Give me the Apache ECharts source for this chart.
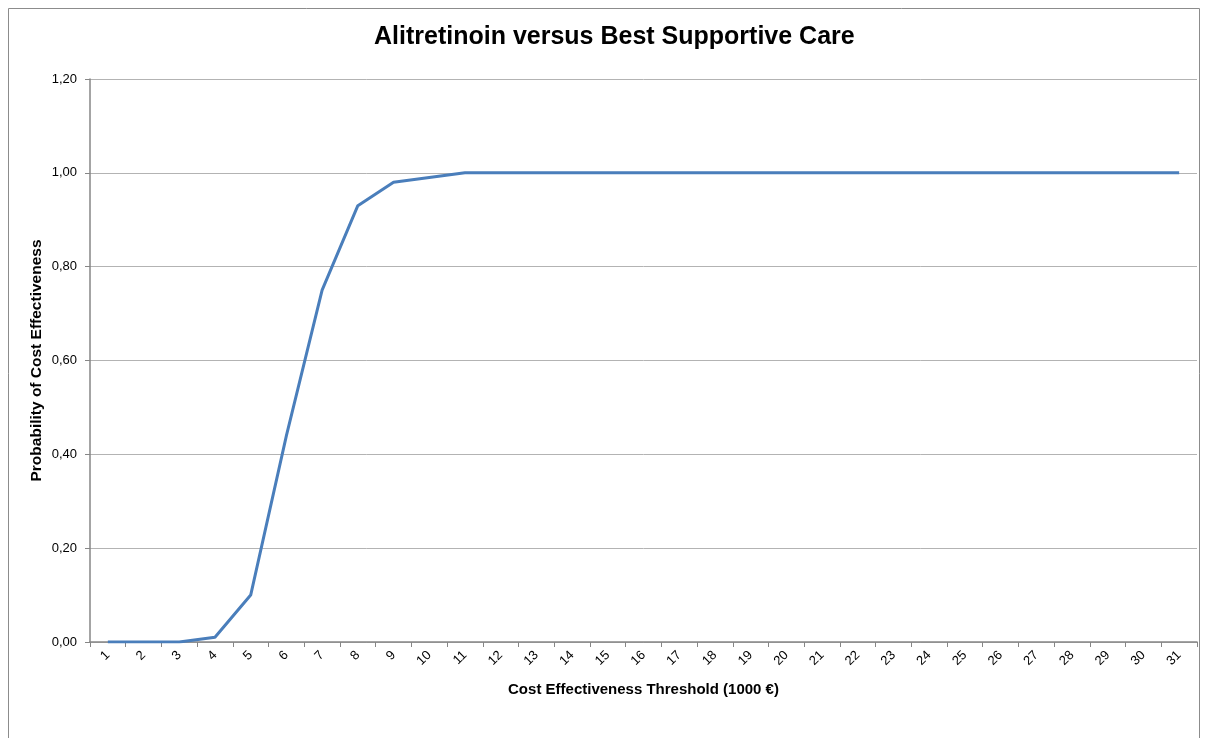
<!DOCTYPE html>
<html>
<head>
<meta charset="utf-8">
<script src="https://cdn.jsdelivr.net/npm/echarts@6/dist/echarts.min.js"></script>
<style>
  html, body { margin: 0; padding: 0; background: #fff; }
  #chart { width: 1207px; height: 738px; }
</style>
</head>
<body>
<div id="chart"></div>
<script>
// Willingness-to-pay thresholds (thousand euro)
const thresholds = ['1','2','3','4','5','6','7','8','9','10','11','12','13','14','15','16','17','18','19','20','21','22','23','24','25','26','27','28','29','30','31'];
// Probability that alitretinoin is cost-effective at each threshold
const probability = [0, 0, 0, 0.01, 0.10, 0.44, 0.75, 0.93, 0.98, 0.99, 1, 1, 1, 1, 1, 1, 1, 1, 1, 1, 1, 1, 1, 1, 1, 1, 1, 1, 1, 1, 1];

const font = 'Liberation Sans, Arial, sans-serif';
const chart = echarts.init(document.getElementById('chart'), null, { renderer: 'canvas' });

chart.setOption({
  animation: false,
  backgroundColor: '#ffffff',
  textStyle: { fontFamily: font },
  graphic: [{
    type: 'rect',
    shape: { x: 8.5, y: 8.5, width: 1191, height: 760 },
    style: { fill: 'none', stroke: '#8c8c8c', lineWidth: 1 },
    silent: true
  }],
  title: {
    text: 'Alitretinoin versus Best Supportive Care',
    left: 369,
    top: 20,
    textStyle: { fontFamily: font, fontSize: 25, fontWeight: 'bold', color: '#000' }
  },
  grid: { left: 90, right: 10, top: 79, bottom: 96, containLabel: false },
  xAxis: {
    type: 'category',
    data: thresholds,
    boundaryGap: true,
    name: 'Cost Effectiveness Threshold (1000 €)',
    nameLocation: 'middle',
    nameGap: 40,
    nameTextStyle: { fontFamily: font, fontSize: 15, fontWeight: 'bold', color: '#000' },
    axisLine: { lineStyle: { color: '#868686', width: 1.5 } },
    axisTick: { show: true, alignWithLabel: false, length: 5, lineStyle: { color: '#868686' } },
    axisLabel: { rotate: 45, fontFamily: font, fontSize: 13, color: '#000', margin: 11 },
    splitLine: { show: false }
  },
  yAxis: {
    type: 'value',
    min: 0,
    max: 1.2,
    interval: 0.2,
    name: 'Probability of Cost Effectiveness',
    nameLocation: 'middle',
    nameGap: 45,
    nameMoveOverlap: false,
    nameTextStyle: { fontFamily: font, fontSize: 15.5, fontWeight: 'bold', color: '#000' },
    axisLine: { show: true, lineStyle: { color: '#868686', width: 1.5 } },
    axisTick: { show: true, length: 5, lineStyle: { color: '#868686' } },
    axisLabel: {
      fontFamily: font, fontSize: 13, color: '#000', margin: 13,
      formatter: v => v.toFixed(2).replace('.', ',')
    },
    splitLine: { show: true, lineStyle: { color: '#b3b3b3', width: 1 } }
  },
  series: [{
    type: 'line',
    data: probability,
    symbol: 'none',
    lineStyle: { color: '#4a7ebb', width: 3 },
    itemStyle: { color: '#4a7ebb' }
  }]
});
</script>
</body>
</html>
